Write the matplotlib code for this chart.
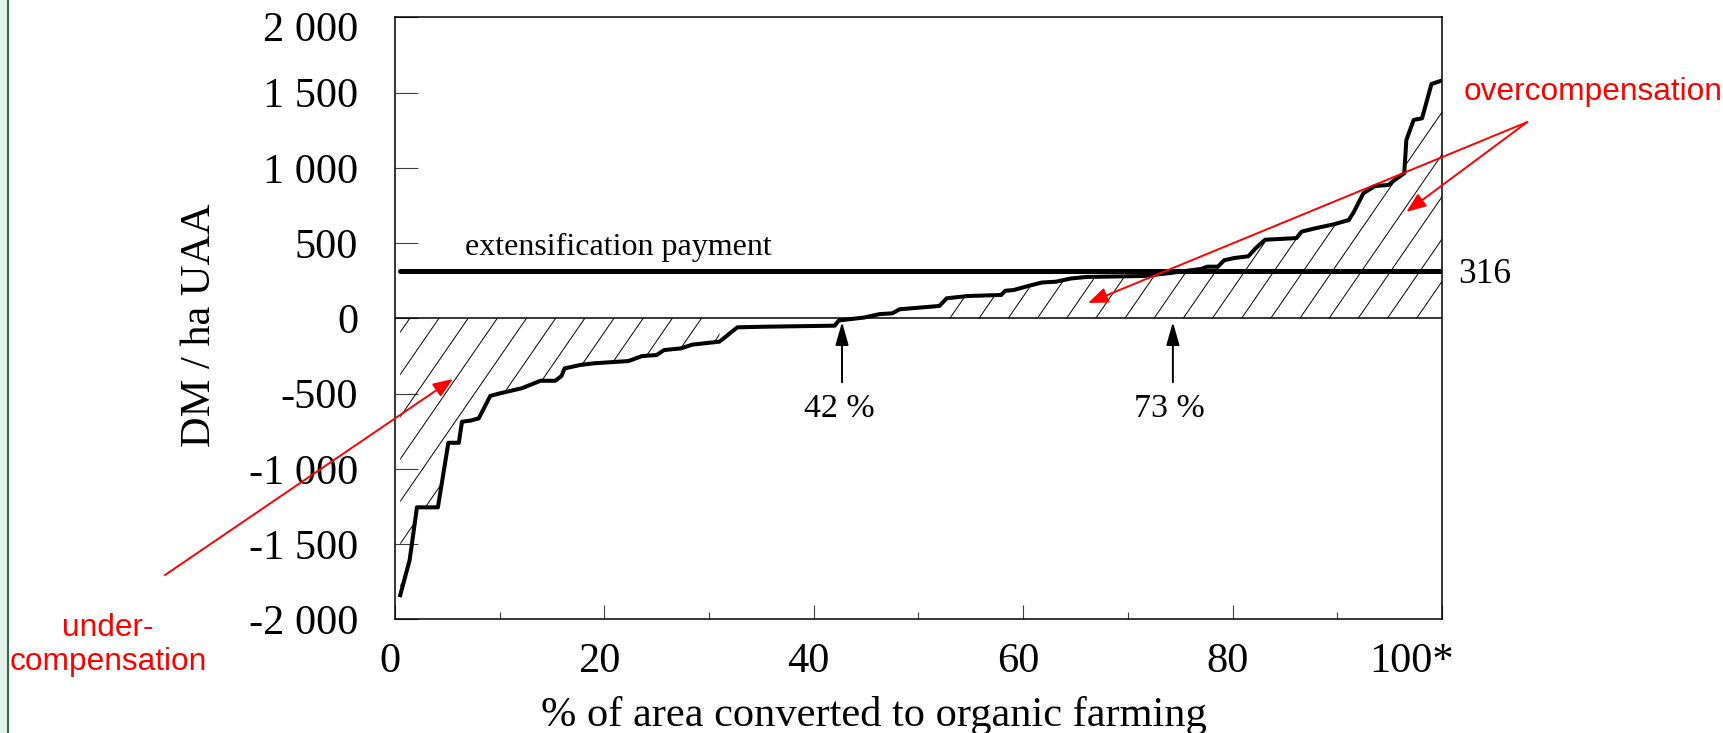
import matplotlib
matplotlib.use('Agg')
import matplotlib.pyplot as plt
import numpy as np
from matplotlib.collections import LineCollection
from matplotlib.lines import Line2D
from matplotlib.patches import Rectangle
from matplotlib.path import Path
from matplotlib.transforms import ScaledTranslation

# farms sorted by DM / ha UAA, x = cumulative % of converted area
area_pct = [0.5, 1.4, 2.1, 4.1, 5.1, 6.1, 6.4, 7.2, 8.0, 9.1,
            10.0, 12.1, 13.9, 15.3, 15.9, 16.2, 17.7, 19.0, 22.3, 23.6,
            25.0, 25.7, 27.3, 28.4, 31.0, 32.7, 35.2, 42.0, 42.4, 44.8,
            46.3, 47.5, 48.2, 52.0, 52.7, 54.7, 57.9, 58.3, 59.1, 60.5,
            61.8, 63.1, 64.6, 66.1, 71.5, 73.8, 77.0, 77.6, 78.6, 79.2,
            80.2, 81.5, 82.2, 83.1, 86.1, 86.6, 87.9, 89.7, 91.1, 91.6,
            92.5, 93.0, 93.6, 94.9, 95.4, 96.4, 96.6, 97.3, 98.1, 99.0,
            100.0]
dm_per_ha = [-1840, -1607, -1256, -1256, -827, -827, -687, -680, -665, -516,
             -499, -465, -415, -415, -384, -333, -310, -299, -284, -251,
             -244, -211, -200, -175, -155, -60, -56, -49, -14, 5,
             28, 33, 60, 82, 133, 148, 155, 183, 188, 215,
             238, 243, 265, 275, 281, 299, 328, 343, 343, 386,
             401, 412, 465, 522, 533, 576, 598, 625, 653, 709,
             831, 853, 879, 886, 915, 964, 1185, 1318, 1329, 1557,
             1580]

payment = 316
y_ticks = [-2000, -1500, -1000, -500, 0, 500, 1000, 1500, 2000]
y_tick_labels = ['-2 000', '-1 500', '-1 000', '-500', '0', '500', '1 000', '1 500', '2 000']
x_ticks = [0, 20, 40, 60, 80, 100]
x_minor_ticks = [10, 30, 50, 70, 90]
x_tick_labels = ['0', '20', '40', '60', '80', '100*']
mark_labels = ['42 %', '73 %']
mark_x = [42.7, 74.3]

serif = 'Liberation Serif'
sans = 'Liberation Sans'
plt.rcParams['font.family'] = serif

x = np.array(area_pct)
y = np.array(dm_per_ha)

fig = plt.figure(figsize=(17.24, 7.33), dpi=100)
ax = fig.add_axes([0.2291, 0.1551, 0.6073, 0.8213])

# slide border on the left
fig.add_artist(Rectangle((0, 0), 0.0041, 1, transform=fig.transFigure,
                         facecolor='#e2f1e9', edgecolor='none'))
fig.add_artist(Line2D([0.0046, 0.0046], [0, 1], transform=fig.transFigure,
                      color='#2e6b4e', lw=1.5))


def hatch(where, x_zero):
    # diagonal hatching clipped to the area between curve and zero
    poly = ax.fill_between(x, y, 0, where=where, facecolor='none', edgecolor='none')
    clip = Path.make_compound_path(*poly.get_paths())
    slope = 100.9
    step = 2.786
    starts = np.arange(x_zero - 45 * step, 100 + step, step)
    segs = [[(s - 2000 / slope, -2000), (s + 2000 / slope, 2000)] for s in starts]
    lc = LineCollection(segs, colors='black', linewidths=0.7)
    ax.add_collection(lc, autolim=False)
    lc.set_clip_path(clip, ax.transData)


hatch(y <= -100, 4.2)
hatch(y >= 100, 53.0)

ax.axhline(0, color='black', lw=1.1)
ax.plot([x[0], x[-1]], [payment, payment], color='black', lw=3.6, solid_capstyle='round')
ax.plot(x, y, color='black', lw=2.9)

ax.text(6.7, 421, 'extensification payment', fontsize=23, ha='left', va='baseline')
ax.text(101.6, 235, str(payment), fontsize=25.5, ha='left', va='baseline')

for lab, xm in zip(mark_labels, mark_x):
    ax.annotate('', xy=(xm, -25), xytext=(xm, -425),
                arrowprops=dict(arrowstyle='-|>,head_length=0.7,head_width=0.2',
                                mutation_scale=20, color='black', lw=1.4,
                                shrinkA=0, shrinkB=0))
    ax.text(xm - 0.3, -655, lab, fontsize=24.5, ha='center', va='baseline')

# red callouts
red_arrow = dict(arrowstyle='-|>,head_length=0.6,head_width=0.235',
                 mutation_scale=20, color='red', lw=1.4, shrinkA=0, shrinkB=0)
ax.annotate('', xy=(5.54, -403), xytext=(-21.97, -1706),
            arrowprops=red_arrow, annotation_clip=False)
ax.annotate('', xy=(66.2, 102), xytext=(108.15, 1304),
            arrowprops=red_arrow, annotation_clip=False)
ax.annotate('', xy=(96.6, 707), xytext=(108.15, 1304),
            arrowprops=red_arrow, annotation_clip=False)
ax.text(-27.4, -2172, 'under-\ncompensation', color='red', family=sans,
        fontsize=22.8, ha='center', va='center', linespacing=1.2, clip_on=False)
ax.text(102.04, 1451, 'overcompensation', color='red', family=sans,
        fontsize=22.8, ha='left', va='baseline', clip_on=False)

ax.set_xlim(0, 100)
ax.set_ylim(-2000, 2000)
ax.set_xticks(x_ticks)
ax.set_xticklabels(x_tick_labels)
ax.set_xticks(x_minor_ticks, minor=True)
ax.set_yticks(y_ticks)
ax.set_yticklabels(y_tick_labels)

ax.tick_params(axis='y', direction='in', length=16.6, width=0.8, color='#404040',
               pad=26.6, labelsize=30.5, left=True, right=False)
ax.tick_params(axis='x', which='major', direction='in', length=10, width=0.8,
               color='#404040', pad=17, labelsize=30.5, top=False)
ax.tick_params(axis='x', which='minor', direction='in', length=5, width=0.8,
               color='#404040', top=False)
for sp in ax.spines.values():
    sp.set_linewidth(1.1)

ax.set_xlabel('% of area converted to organic farming', fontsize=30.5)
ax.xaxis.set_label_coords(0.457, -0.127)
ax.set_ylabel('DM / ha UAA', fontsize=30.5)
ax.yaxis.set_label_coords(-0.168, 0.489)

# small nudges of tick labels as in the original slide
xlabs = ax.get_xticklabels()
for i, lab in enumerate(xlabs):
    dx = -30 if i == len(xlabs) - 1 else -5
    lab.set_transform(lab.get_transform() + ScaledTranslation(dx / 100, 0, fig.dpi_scale_trans))
ylabs = ax.get_yticklabels()
ylabs[-1].set_transform(ylabs[-1].get_transform() + ScaledTranslation(0, -9 / 100, fig.dpi_scale_trans))

fig.savefig('out.png', dpi=100)
plt.close()
